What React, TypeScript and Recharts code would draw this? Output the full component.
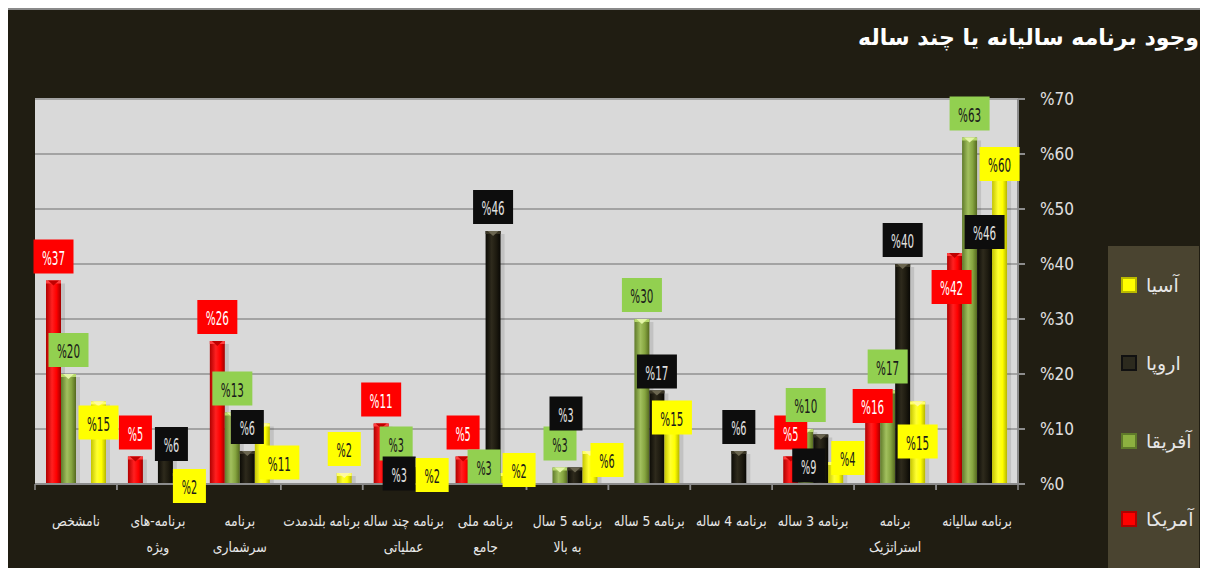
import React from "react";
import { BarChart, Bar, XAxis, YAxis, CartesianGrid, LabelList } from "recharts";

// ---------- data ----------
const categories = [
  "برنامه سالیانه",
  "برنامه\nاستراتژیک",
  "برنامه 3 ساله",
  "برنامه 4 ساله",
  "برنامه 5 ساله",
  "برنامه 5 سال\nبه بالا",
  "برنامه ملی\nجامع",
  "برنامه چند ساله\nعملیاتی",
  "برنامه بلندمدت",
  "برنامه\nسرشماری",
  "برنامه-های\nویژه",
  "نامشخص",
];
const americaValues = [42, 16, 5, null, null, null, 5, 11, null, 26, 5, 37];
const africaValues = [63, 17, 10, null, 30, 3, 3, 3, null, 13, null, 20];
const europeValues = [46, 40, 9, 6, 17, 3, 46, 3, null, 6, 6, null];
const asiaValues = [60, 15, 4, null, 15, 6, 2, 2, 2, 11, 2, 15];
const seriesNames = ["آمریکا", "آفریقا", "اروپا", "آسیا"];
const seriesKeys = ["america", "africa", "europe", "asia"];
const yTicks = [0, 10, 20, 30, 40, 50, 60, 70];
const title = "وجود برنامه سالیانه یا چند ساله";

const data = categories.map((cat, i) => ({
  cat,
  idx: i,
  america: americaValues[i],
  africa: africaValues[i],
  europe: europeValues[i],
  asia: asiaValues[i],
}));

// ---------- styles ----------
const styles: Record<string, any> = {
  america: { grad: "gRed", tip: "#c00000", cap: "#ff4040", box: "#ff0000", text: "#ffffff", sw: "#ff0000", swb: "#b00000" },
  africa: { grad: "gGreen", tip: "#e4f5a8", cap: "#b5d86a", box: "#92d050", text: "#1a1a1a", sw: "#8db040", swb: "#5f7a2a" },
  europe: { grad: "gBlack", tip: "#6b6650", cap: "#3a3626", box: "#0d0d0d", text: "#e0e0e0", sw: "#2c2a1e", swb: "#111" },
  asia: { grad: "gYellow", tip: "#fff9a0", cap: "#ffff66", box: "#ffff00", text: "#1a1a1a", sw: "#ffff00", swb: "#b8b800" },
};

// label nudges (dx, dy) relative to default position above the bar, keyed by series|category index
const labelNudges: Record<string, [number, number]> = {
  "asia|11": [0, 45],
  "europe|10": [6, 17],
  "asia|10": [9, 37],
  "asia|9": [17, 63],
  "europe|7": [-12, 30],
  "asia|7": [6, 26],
  "africa|6": [6, 23],
  "asia|6": [11, 21],
  "europe|5": [-9, -30],
  "asia|5": [17, 33],
  "europe|4": [0, 5],
  "asia|4": [0, 40],
  "europe|2": [-12, 55],
  "asia|2": [12, 20],
  "america|1": [0, 34],
  "asia|1": [0, 64],
  "america|0": [-3, 58],
  "europe|0": [0, 25],
  "asia|0": [0, 34],
};

const makeShape = (key: string) => (props: any) => {
  const { x, y, width, height } = props;
  const st = styles[key];
  if (!height || height <= 0 || x == null) return <g />;
  return (
    <g>
      <rect x={x + width} y={y + 3} width={4} height={Math.max(0, height - 3)} fill="#000" opacity={0.1} />
      <rect x={x} y={y} width={width} height={height} fill={`url(#${st.grad})`} />
      <rect x={x} y={y} width={width} height={3} fill={st.cap} />
      <path d={`M${x + 2},${y} L${x + width - 2},${y} L${x + width / 2},${y + 5} Z`} fill={st.tip} />
    </g>
  );
};

const emptyShape = () => <g />;

const makeLabel = (key: string) => (props: any) => {
  const raw = props.value;
  if (raw == null) return null;
  const [valStr, idxStr] = String(raw).split("|");
  const vb = props.viewBox || {};
  const x = props.x ?? vb.x;
  const y = props.y ?? vb.y;
  const width = props.width ?? vb.width;
  const st = styles[key];
  const nudge = labelNudges[`${key}|${idxStr}`] || [0, 0];
  const txt = "%" + valStr;
  const bw = txt.length === 2 ? 33 : 40;
  const cx = x + width / 2 + nudge[0];
  const cy = y - 24 + nudge[1];
  return (
    <g>
      <rect x={cx - bw / 2} y={cy - 17} width={bw} height={34} fill={st.box} />
      <text
        x={cx}
        y={cy + 1}
        textAnchor="middle"
        dominantBaseline="central"
        fill={st.text}
        fontSize={20}
        fontFamily="Liberation Sans Narrow, DejaVu Sans Condensed, sans-serif"
        textLength={txt.length * 7.7}
        lengthAdjust="spacingAndGlyphs"
      >
        {txt}
      </text>
    </g>
  );
};

const XTick = (props: any) => {
  const { x, y, payload } = props;
  const half = payload && payload.offset ? payload.offset : 41;
  const lines = String(payload.value).split("\n");
  return (
    <g>
      <line x1={x - half} x2={x - half} y1={y} y2={y + 6} stroke="#8c8c8c" strokeWidth={1.5} />
      <line x1={x + half} x2={x + half} y1={y} y2={y + 6} stroke="#8c8c8c" strokeWidth={1.5} />
      <g transform={`translate(${x},${y}) scale(0.85,1)`}>
        {lines.map((l, i) => (
          <text
            key={i}
            x={0}
            y={37 + i * 26}
            textAnchor="middle"
            dominantBaseline="central"
            fill="#e8e8e8"
            fontSize={14.5}
            fontFamily="DejaVu Sans, sans-serif"
          >
            {l}
          </text>
        ))}
      </g>
    </g>
  );
};

export default function App() {
  const legendOrder = [3, 2, 1, 0];
  return (
    <div
      style={{
        position: "relative",
        marginLeft: -2,
        width: 1200,
        height: 558,
        background: "#201d12",
        borderTop: "2px solid #8a8a8a",
        borderLeft: "2px solid #8a8a8a",
        overflow: "hidden",
      }}
    >
      <div
        dir="rtl"
        style={{
          position: "absolute",
          right: 9,
          top: 15,
          color: "#ffffff",
          fontFamily: "DejaVu Sans, sans-serif",
          fontWeight: "bold",
          fontSize: 22,
          whiteSpace: "nowrap",
        }}
      >
        {title}
      </div>
      <BarChart
        width={1200}
        height={558}
        data={data}
        margin={{ top: 89, right: 130, bottom: 0, left: 27 }}
        barCategoryGap={11}
        barGap={0}
      >
        <defs>
          <linearGradient id="gRed" x1="0" y1="0" x2="1" y2="0">
            <stop offset="0" stopColor="#b00000" />
            <stop offset="0.4" stopColor="#ff2020" />
            <stop offset="0.7" stopColor="#ff0000" />
            <stop offset="1" stopColor="#a00000" />
          </linearGradient>
          <linearGradient id="gGreen" x1="0" y1="0" x2="1" y2="0">
            <stop offset="0" stopColor="#5f7a2a" />
            <stop offset="0.4" stopColor="#a2c05e" />
            <stop offset="0.7" stopColor="#86a540" />
            <stop offset="1" stopColor="#55691f" />
          </linearGradient>
          <linearGradient id="gBlack" x1="0" y1="0" x2="1" y2="0">
            <stop offset="0" stopColor="#0c0b06" />
            <stop offset="0.4" stopColor="#2e2a1c" />
            <stop offset="0.7" stopColor="#1e1b10" />
            <stop offset="1" stopColor="#090804" />
          </linearGradient>
          <linearGradient id="gYellow" x1="0" y1="0" x2="1" y2="0">
            <stop offset="0" stopColor="#c4c400" />
            <stop offset="0.4" stopColor="#ffff30" />
            <stop offset="0.7" stopColor="#ffff00" />
            <stop offset="1" stopColor="#b5b500" />
          </linearGradient>
        </defs>
        <CartesianGrid vertical={false} fill="#d9d9d9" stroke="#a3a3a3" strokeWidth={2} />
        <XAxis
          dataKey="cat"
          reversed
          height={84}
          interval={0}
          tickSize={0}
          tickMargin={0}
          tickLine={false}
          axisLine={{ stroke: "#8c8c8c", strokeWidth: 2 }}
          tick={<XTick />}
        />
        <XAxis xAxisId="lab" dataKey="cat" reversed hide />
        <YAxis
          orientation="right"
          domain={[0, 70]}
          ticks={yTicks}
          interval={0}
          width={60}
          tickSize={7}
          tickMargin={15}
          tickFormatter={(v: number) => "%" + v}
          axisLine={{ stroke: "#8c8c8c", strokeWidth: 2 }}
          tickLine={{ stroke: "#8c8c8c", strokeWidth: 2 }}
          tick={{ fill: "#e0e0e0", fontSize: 17, fontFamily: "Liberation Sans Narrow, DejaVu Sans Condensed, sans-serif" }}
        />
        {seriesKeys.map((k, i) => (
          <Bar key={k} dataKey={k} name={seriesNames[i]} shape={makeShape(k)} isAnimationActive={false} />
        ))}
        {seriesKeys.map((k, i) => (
          <Bar
            key={"lab-" + k}
            xAxisId="lab"
            dataKey={k}
            name={seriesNames[i]}
            shape={emptyShape}
            legendType="none"
            isAnimationActive={false}
          >
            <LabelList
              dataKey={(d: any) => (d[k] == null ? null : `${d[k]}|${d.idx}`)}
              content={makeLabel(k)}
            />
          </Bar>
        ))}
      </BarChart>
      <div
        style={{
          position: "absolute",
          left: 1100,
          top: 236,
          width: 91,
          height: 330,
          background: "#4a4430",
        }}
      >
        {legendOrder.map((si, j) => {
          const st = styles[seriesKeys[si]];
          return (
            <div
              key={si}
              style={{
                position: "absolute",
                left: 13,
                top: 39 + j * 78 - 14,
                height: 28,
                display: "flex",
                alignItems: "center",
              }}
            >
              <div
                style={{
                  width: 12,
                  height: 12,
                  background: st.sw,
                  border: `2px solid ${st.swb}`,
                  marginRight: 9,
                }}
              />
              <span
                style={{
                  color: "#e6e6e6",
                  fontFamily: "DejaVu Sans, sans-serif",
                  fontSize: 19,
                  whiteSpace: "nowrap",
                }}
              >
                {seriesNames[si]}
              </span>
            </div>
          );
        })}
      </div>
    </div>
  );
}
